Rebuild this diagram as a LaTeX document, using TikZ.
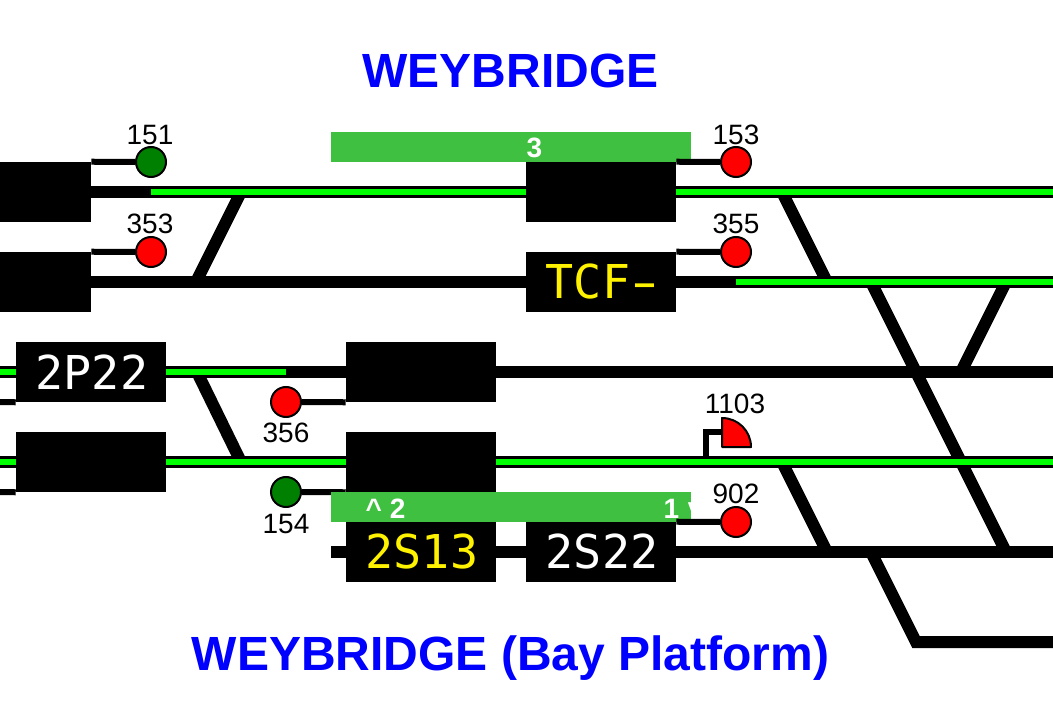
\documentclass[tikz,border=0pt]{standalone}
\usepackage{fontspec}
\setmainfont{Liberation Sans}
\newfontfamily\panelmono{DejaVu Sans Mono}
\definecolor{platform}{HTML}{40C040}
\definecolor{routelit}{HTML}{00FF00}
\definecolor{sigred}{HTML}{FF0000}
\definecolor{siggreen}{HTML}{008000}
\definecolor{titleblue}{HTML}{0000FF}
\tikzset{
  x=0.75pt, y=-0.75pt,
  track/.style={line width=9pt, black, line join=miter},
  route/.style={line width=4.5pt, routelit},
  arm/.style={line width=4.5pt, black},
  berth/.style={fill=black, draw=none, inner sep=0pt, minimum width=112.5pt, minimum height=45pt,
    font=\panelmono\fontsize{35}{35}\selectfont, execute at begin node={\hspace*{1.5pt}}},
  stub/.style={fill=black, draw=none, inner sep=0pt, minimum width=68.25pt, minimum height=45pt},
  strip/.style={fill=platform, draw=none, inner sep=0pt, minimum width=270pt, minimum height=22.5pt},
  signal/.style={circle, draw=black, line width=1.5pt, inner sep=0pt, minimum size=22.5pt},
  sigid/.style={inner sep=0pt, font=\fontsize{21}{21}\selectfont},
  striptext/.style={inner sep=0pt, text=white, font=\bfseries\fontsize{21}{21}\selectfont},
  station/.style={inner sep=0pt, text=titleblue, font=\bfseries\fontsize{36}{36}\selectfont},
}
\begin{document}
\begin{tikzpicture}
\useasboundingbox (0,0) rectangle (1053,727);

% Named ends of tracks and junction points
\coordinate (e1) at (1053,192);
\coordinate (e2) at (1053,282);
\coordinate (e3) at (1053,372);
\coordinate (e4) at (1053,462);
\coordinate (e5) at (1053,552);
\coordinate (e6) at (1053,642);
\coordinate (w3) at (0,372);
\coordinate (w4) at (0,462);
\coordinate (w3s) at (0,402);
\coordinate (w4s) at (0,492);
\coordinate (w5) at (331,552);
\coordinate (g1) at (151,192);
\coordinate (g2) at (736,282);
\coordinate (g3) at (286,372);
\coordinate (xa1) at (241,192);
\coordinate (xa2) at (196,282);
\coordinate (xb1) at (782,192);
\coordinate (xb2) at (827,282);
\coordinate (xc1) at (871,282);
\coordinate (xc2) at (1006,552);
\coordinate (xd1) at (961,372);
\coordinate (xd2) at (1006,282);
\coordinate (xe1) at (197,372);
\coordinate (xe2) at (241,462);
\coordinate (xf1) at (782,462);
\coordinate (xf2) at (827,552);
\coordinate (xg1) at (871,552);
\coordinate (xg2) at (916,642);
\coordinate (s1103a) at (706,458);
\coordinate (s1103b) at (706,432);
\coordinate (s1103c) at (722,432);

% Train describer berths
\path (45.5,192) node[stub] (bA) {};
\path (45.5,282) node[stub] (bB) {};
\path (601,192) node[berth] (bC) {};
\path (601,282) node[berth,text=yellow] (bD) {TCF\makebox[0.602em]{\hspace{1.5pt}\scalebox{1.6}[1]{-}}};
\path (91,372) node[berth,text=white] (bE) {2P22};
\path (91,462) node[berth] (bF) {};
\path (421,372) node[berth] (bG) {};
\path (421,462) node[berth] (bH) {};
\path (421,552) node[berth,text=yellow] (bI) {2S13};
\path (601,552) node[berth,text=white] (bJ) {2S22};

% Black track work
\draw[track] (bA.east) -- (bC.west) (bC.east) -- (e1);
\draw[track] (bB.east) -- (bD.west) (bD.east) -- (e2);
\draw[track] (w3) -- (bE.west) (bE.east) -- (bG.west) (bG.east) -- (e3);
\draw[track] (w4) -- (bF.west) (bF.east) -- (bH.west) (bH.east) -- (e4);
\draw[track] (w5) -- (bI.west) (bI.east) -- (bJ.west) (bJ.east) -- (e5);
\draw[track] (xa1) -- (xa2);
\draw[track] (xb1) -- (xb2);
\draw[track] (xc1) -- (xc2);
\draw[track] (xd1) -- (xd2);
\draw[track] (xe1) -- (xe2);
\draw[track] (xf1) -- (xf2);
\draw[track] (xg1) -- (xg2) -- (e6);

% Lit routes
\draw[route] (g1) -- (bC.west) (bC.east) -- (e1);
\draw[route] (g2) -- (e2);
\draw[route] (w3) -- (bE.west) (bE.east) -- (g3);
\draw[route] (w4) -- (bF.west) (bF.east) -- (bH.west) (bH.east) -- (e4);

% Signals
\path (151,162) node[signal,fill=siggreen] (s151) {};
\path (151,252) node[signal,fill=sigred] (s353) {};
\path (736,162) node[signal,fill=sigred] (s153) {};
\path (736,252) node[signal,fill=sigred] (s355) {};
\path (286,402) node[signal,fill=sigred] (s356) {};
\path (286,492) node[signal,fill=siggreen] (s154) {};
\path (736,522) node[signal,fill=sigred] (s902) {};

\draw[arm] (bA.north east) -- (s151.west);
\draw[arm] (bB.north east) -- (s353.west);
\draw[arm] (bD.north east) -- (s355.west);
\draw[arm] (s356.east) -- (bG.south west);
\draw[arm] (s154.east) -- (bH.south west);
\draw[arm] (w3s) -- (bE.south west);
\draw[arm] (w4s) -- (bF.south west);

% Platforms
\path (511,147) node[strip] (p3) {};
\path (511,507) node[strip] (p12) {};
\draw[arm] (bC.north east) -- (s153.west);
\draw[arm] (bJ.north east) -- (s902.west);

% Ground signal 1103, a quarter disc on a bracket
\draw[arm,line join=miter] (s1103a) -- (s1103b) -- (s1103c);
\draw[black,line width=1.5pt,fill=sigred,line join=round] (722,447) -- (722,418) arc[start angle=270,end angle=360,radius=29] -- cycle;

% Signal numbers
\path (150,135) node[sigid] (n151) {151};
\path (150,224) node[sigid] (n353) {353};
\path (736,135) node[sigid] (n153) {153};
\path (736,224) node[sigid] (n355) {355};
\path (286,433) node[sigid] (n356) {356};
\path (286,524) node[sigid] (n154) {154};
\path (735,404) node[sigid] (n1103) {1103};
\path (736,494) node[sigid] (n902) {902};

% Platform numbers; the direction mark of platform 1 runs off the end of the strip
\path (534.5,148) node[striptext] (t3) {3};
\path (385.5,508.5) node[striptext] (t2) {\^{} 2};
\path (671.5,508.5) node[striptext] (t1) {1};
\begin{scope}
  \clip (p12.south west) rectangle (p12.north east);
  \path (687.5,510) node[striptext,anchor=west] (tv) {v};
\end{scope}

% Station names
\path (510.5,71) node[station] (st1) {WEYBRIDGE};
\path (510.5,658) node[station] (st2) {WEYBRIDGE (Bay Platform)};
\end{tikzpicture}
\end{document}
